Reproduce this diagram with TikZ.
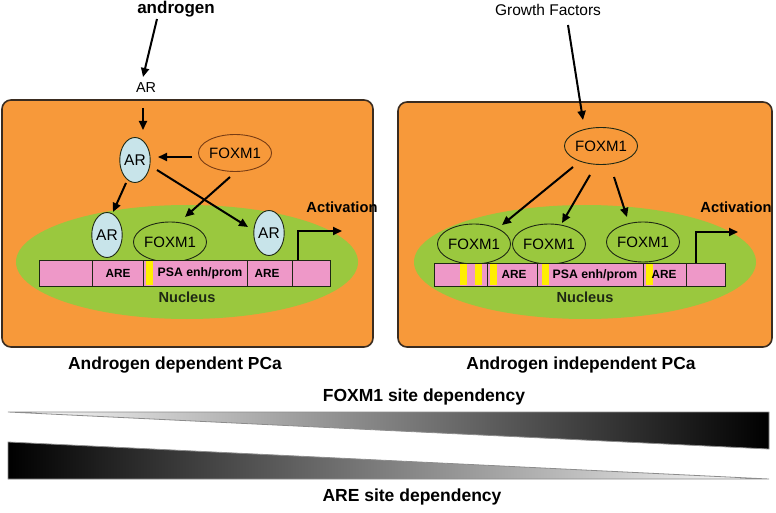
\documentclass[tikz,border=0pt]{standalone}
\usepackage{fontspec}
\setmainfont{Liberation Sans}
\usetikzlibrary{shapes.geometric,arrows.meta}
\definecolor{cellorange}{RGB}{247,153,58}
\definecolor{cellborder}{RGB}{58,44,32}
\definecolor{nucgreen}{RGB}{154,200,62}
\definecolor{dnapink}{RGB}{238,152,200}
\definecolor{arblue}{RGB}{200,228,234}
\definecolor{siteyellow}{RGB}{255,238,0}
\definecolor{foxline}{RGB}{120,60,20}
\definecolor{darkline}{RGB}{30,40,20}
\newcommand\myfs[1]{\fontsize{#1}{#1}\selectfont}
\begin{document}
\begin{tikzpicture}[x=1pt,y=-1pt,
  cell/.style={draw=cellborder,line width=1.6pt,fill=cellorange,rounded corners=9pt},
  nuc/.style={ellipse,fill=nucgreen,inner sep=0,minimum width=342pt,minimum height=114pt},
  arcell/.style={ellipse,draw=darkline,line width=0.9pt,fill=arblue,minimum width=27pt,minimum height=45pt,inner sep=0,font=\myfs{15.5}},
  foxtop/.style={ellipse,draw=foxline,line width=0.9pt,minimum width=68pt,minimum height=37pt,inner sep=0,font=\myfs{15}},
  foxnuc/.style={ellipse,draw=darkline,line width=0.9pt,minimum width=66pt,minimum height=40pt,inner sep=0,font=\myfs{15}},
  dna/.style={draw=darkline,line width=1pt,fill=dnapink},
  divider/.style={draw=darkline,line width=1pt},
  site/.style={fill=siteyellow},
  lbl/.style={inner sep=0,font=\myfs{#1}},
  blbl/.style={inner sep=0,font=\bfseries\myfs{#1}},
  arr/.style={line width=2pt,-{Triangle[length=9pt,width=8pt]}},
  wedge/.style={draw=black!45,line width=0.8pt}
]
\useasboundingbox (0,0) rectangle (776,513);

% ---------- cells ----------
\draw[cell] (2,100) rectangle (373,347);
\draw[cell] (398,102) rectangle (772,347);

% ---------- nuclei ----------
\node[nuc] (nucL) at (187,262) {};
\node[nuc] (nucR) at (585,262) {};

% ---------- left panel nodes ----------
\node[blbl=17] (androgen) at (176,9) {androgen};
\node[lbl=14.4] (arTop) at (146,88) {AR};
\node[arcell] (arL) at (135,160) {AR};
\node[foxtop] (foxL) at (235,153) {FOXM1};
\node[arcell] (arA) at (107,235) {AR};
\node[foxnuc] (foxA) at (170,242) {FOXM1};
\node[arcell] (arB) at (269,233) {AR};

% ---------- right panel nodes ----------
\node[lbl=15.5] (growth) at (548,10) {Growth Factors};
\node[foxtop,draw=darkline] (foxR) at (601,146) {FOXM1};
\node[foxnuc] (f1) at (474,244) {FOXM1};
\node[foxnuc] (f2) at (549,244) {FOXM1};
\node[foxnuc] (f3) at (643,242) {FOXM1};

% ---------- left DNA ----------
\draw[dna] (39,260) rectangle (330,286);
\fill[site] (146,260.6) rectangle (153,285.4);
\foreach \xx in {92,143,247,292} \draw[divider] (\xx,260) -- (\xx,286);
\node[blbl=11.8] (areL1) at (118,273) {ARE};
\node[blbl=12.3] (psaL) at (200,273.5) {PSA enh/prom};
\node[blbl=11.8] (areL2) at (267,273) {ARE};
\node[blbl=14.6,text=darkline] (nucLabL) at (187,297) {Nucleus};

% ---------- right DNA ----------
\draw[dna] (434,263) rectangle (725,286);
\foreach \xx in {460,475,490,542,646} \fill[site] (\xx,263.6) rectangle (\xx+7,285.4);
\foreach \xx in {487,537,643,686} \draw[divider] (\xx,263) -- (\xx,286);
\node[blbl=11.8] (areR1) at (514,274.5) {ARE};
\node[blbl=12.3] (psaR) at (595,275) {PSA enh/prom};
\node[blbl=11.8] (areR2) at (664,274.5) {ARE};
\node[blbl=14.6,text=darkline] (nucLabR) at (585,297) {Nucleus};

% ---------- activation ----------
\coordinate (actL0) at (298,260);
\coordinate (actL1) at (342,231);
\draw[arr,line width=1.8pt] (actL0) |- (actL1);
\node[blbl=14.7] (actLabL) at (342,207) {Activation};
\coordinate (actR0) at (696,263);
\coordinate (actR1) at (738,232);
\draw[arr,line width=1.8pt] (actR0) |- (actR1);
\node[blbl=14.7] (actLabR) at (736,207) {Activation};

% ---------- left arrows ----------
\draw[arr] ([shift={(-19,10)}]androgen.center) -- ([shift={(-3,-11)}]arTop.center);
\draw[arr] ([shift={(-3,20)}]arTop.center) -- ([shift={(8,-30)}]arL.center);
\draw[arr] ([shift={(-43,4)}]foxL.center) -- ([shift={(23,-3)}]arL.center);
\draw[arr] ([shift={(-9,23)}]arL.center) -- ([shift={(6,-23)}]arA.center);
\draw[arr] ([shift={(22,10)}]arL.center) -- ([shift={(-21,-6)}]arB.center);
\draw[arr] ([shift={(-5,24)}]foxL.center) -- ([shift={(15,-25)}]foxA.center);

% ---------- right arrows ----------
\draw[arr] ([shift={(20,15)}]growth.center) -- ([shift={(-18,-26)}]foxR.center);
\draw[arr] ([shift={(-28,21)}]foxR.center) -- ([shift={(28,-19)}]f1.center);
\draw[arr] ([shift={(-11,29)}]foxR.center) -- ([shift={(13,-21)}]f2.center);
\draw[arr] ([shift={(13,31)}]foxR.center) -- ([shift={(-16,-25)}]f3.center);

% ---------- captions ----------
\node[blbl=17.4] (capL) at (175,365) {Androgen dependent PCa};
\node[blbl=17.4] (capR) at (581,365) {Androgen independent PCa};

% ---------- gradient wedges ----------
\path[wedge,left color=white,middle color=black!30,right color=black] (8,412) -- (769,412) -- (769,449) -- cycle;
\path[wedge,left color=black,middle color=black!45,right color=white] (8,442) -- (8,479) -- (769,479) -- cycle;
\node[blbl=17.5] (foxDep) at (424,397) {FOXM1 site dependency};
\node[blbl=17.5] (areDep) at (412,497) {ARE site dependency};
\end{tikzpicture}
\end{document}
